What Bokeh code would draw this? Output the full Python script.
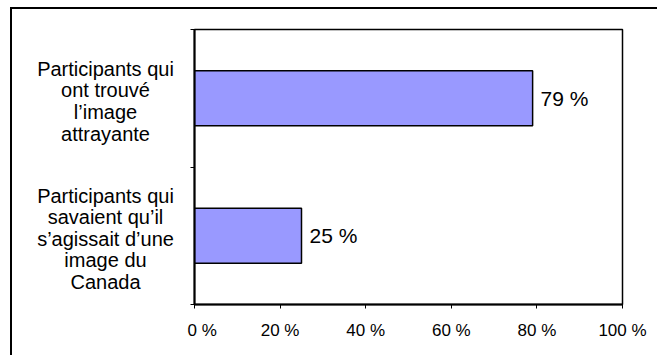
from bokeh.plotting import figure
from bokeh.layouts import row
from bokeh.models import ColumnDataSource, LabelSet, Range1d, FixedTicker
from bokeh.core.properties import value
from bokeh.embed import file_html
from bokeh.resources import INLINE

categories = ["Participants qui\nont trouvé\nl’image\nattrayante",
              "Participants qui\nsavaient qu’il\ns’agissait d’une\nimage du\nCanada"]
values = [79, 25]
value_labels = ["79 %", "25 %"]
cat_pos = [1.5, 0.5]
x_ticks = [0, 20, 40, 60, 80, 100]
x_tick_labels = ["0 %", "20 %", "40 %", "60 %", "80 %", "100 %"]

FONT = "Arial"

src = ColumnDataSource(dict(cat=categories, val=values, lab=value_labels, y=cat_pos,
                            mid=[0.5] * len(values)))

yr = Range1d(0, 2)

# left panel holding the category labels (shares the y scale)
lf = figure(width=175, height=348, output_backend="svg", toolbar_location=None,
            x_range=Range1d(0, 1), y_range=yr,
            min_border_left=0, min_border_right=0, min_border_top=20, min_border_bottom=51)
lf.axis.visible = False
lf.grid.visible = False
lf.outline_line_color = None
lf.border_fill_color = "white"
lf.background_fill_color = "white"
lf.text(x="mid", y="y", text="cat", source=src, x_offset=5.5, y_offset=3,
        text_align="center", text_baseline="middle",
        text_font=value(FONT), text_font_size="20px", text_color="black",
        text_line_height=0.98)

p = figure(width=480, height=348, output_backend="svg", toolbar_location=None,
           x_range=Range1d(0, 100), y_range=yr,
           min_border_left=0, min_border_right=45, min_border_top=20, min_border_bottom=51)

p.hbar(y="y", right="val", left=0, height=0.4, source=src,
       fill_color="#9999FF", line_color="black", line_width=1.5)

p.add_layout(LabelSet(x="val", y="y", text="lab", source=src, x_offset=8,
                      text_baseline="middle", text_align="left",
                      text_font=value(FONT), text_font_size="21px", text_color="black"))

p.xgrid.visible = False
p.ygrid.visible = False
p.outline_line_color = "black"
p.outline_line_width = 1.5
p.background_fill_color = "white"
p.border_fill_color = "white"

xa = p.xaxis[0]
xa.ticker = FixedTicker(ticks=x_ticks)
xa.major_label_overrides = {t: l for t, l in zip(x_ticks, x_tick_labels)}
xa.axis_line_width = 2
xa.major_tick_in = 0
xa.major_tick_out = 4
xa.minor_tick_out = 0
xa.minor_tick_in = 0
xa.major_label_standoff = 12
xa.major_label_text_font = FONT
xa.major_label_text_font_size = "17px"
xa.major_label_text_color = "black"

ya = p.yaxis[0]
ya.ticker = FixedTicker(ticks=[0, 1, 2])
ya.major_label_overrides = {0: " ", 1: " ", 2: " "}
ya.major_label_text_font_size = "1px"
ya.major_label_standoff = 0
ya.axis_line_width = 2
ya.major_tick_in = 0
ya.major_tick_out = 4
ya.minor_tick_out = 0
ya.minor_tick_in = 0

layout = row(lf, p, spacing=0, width=647, height=348,
             styles={"margin-left": "10px", "margin-top": "7px", "overflow": "hidden",
                     "border-top": "2px solid black", "border-left": "2px solid black"})

open("out.html", "w").write(file_html(layout, INLINE))
